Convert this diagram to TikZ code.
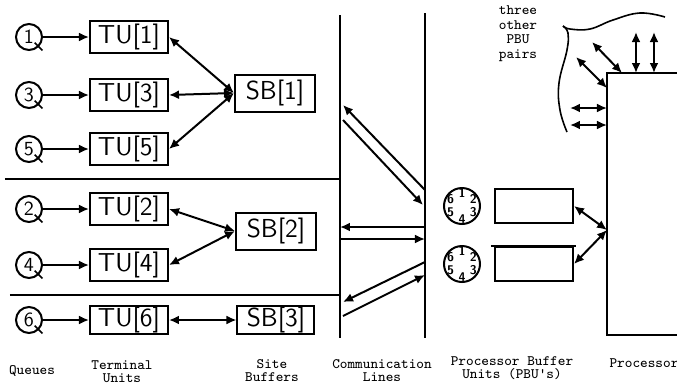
\documentclass[tikz,border=0pt]{standalone}
\usepackage{fontspec}
\usetikzlibrary{arrows.meta, positioning}

\tikzset{
  queue/.style={circle, draw, minimum size=13pt, inner sep=0pt,
    font=\sffamily\fontsize{10}{10}\selectfont},
  unit/.style={draw, minimum width=39pt, minimum height=16pt, inner sep=0pt,
    font=\sffamily\fontsize{13}{13}\selectfont},
  site/.style={unit, minimum width=40pt, minimum height=18.5pt},
  pbu/.style={circle, draw, minimum size=18pt, inner sep=0pt},
  pbudigit/.style={inner sep=0pt, font=\sffamily\bfseries\fontsize{6.3}{6.3}\selectfont},
  pbubox/.style={draw, minimum width=39pt, minimum height=17pt},
  caption/.style={anchor=north, inner sep=0pt, align=center,
    font=\ttfamily\fontsize{7.2}{6.5}\selectfont},
}

\begin{document}
\begin{tikzpicture}[x=0.5pt, y=-0.5pt, node distance=50pt, on grid, line width=1pt,
    >={Latex[length=5pt, width=4.5pt]}]
  \useasboundingbox (0,0) rectangle (677,387);

  % queues, terminal units, site buffers
  \node[queue] (q1) at (29,37) {1};
  \node[queue] (q3) at (29,95) {3};
  \node[queue] (q5) at (29,149) {5};
  \node[queue] (q2) at (29,209) {2};
  \node[queue] (q4) at (29,265) {4};
  \node[queue] (q6) at (29,320) {6};
  \foreach \q in {1,...,6}
    \draw[line width=0.8pt] ([shift={(-45:4pt)}]q\q.center) -- ([shift={(-45:9.5pt)}]q\q.center);

  \node[unit] (tu1) [right=of q1] {TU[1]};
  \node[unit] (tu3) [right=of q3] {TU[3]};
  \node[unit] (tu5) [right=of q5] {TU[5]};
  \node[unit] (tu2) [right=of q2] {TU[2]};
  \node[unit] (tu4) [right=of q4] {TU[4]};
  \node[unit, minimum height=14pt] (tu6) [right=of q6] {TU[6]};

  \node[site] (sb1) at (275,93) {SB[1]};
  \node[site] (sb2) at (276,231) {SB[2]};
  \node[site, minimum width=38.5pt, minimum height=14pt] (sb3) at (276,320) {SB[3]};

  \path[->]
    (q1) edge (tu1)
    (q3) edge (tu3)
    (q5) edge (tu5)
    (q2) edge (tu2)
    (q4) edge (tu4)
    (q6) edge (tu6);
  \path[<->]
    (sb1.west) edge (tu1.east)
               edge (tu3.east)
               edge (tu5.east)
    (sb2.west) edge (tu2.east)
               edge (tu4.east)
    (sb3.west) edge (tu6.east);

  \coordinate (s1a) at (5,179);
  \coordinate (s2a) at (10,295);

  % communication lines
  \coordinate (cl1t) at (340,15);
  \coordinate (cl1b) at (340,338);
  \coordinate (cl2t) at (425,13);
  \coordinate (cl2b) at (425,338);
  \draw (cl1t) -- (cl1b);
  \draw (cl2t) -- (cl2b);
  \draw (s1a) -- (s1a -| cl1t);
  \draw (s2a) -- (s2a -| cl1t);

  \coordinate (a1) at (425,190);  \coordinate (a2) at (343,105);
  \coordinate (b1) at (343,120);  \coordinate (b2) at (423,205);
  \coordinate (c1) at (425,227);  \coordinate (c2) at (340,227);
  \coordinate (d1) at (340,239);  \coordinate (d2) at (425,239);
  \coordinate (e1) at (425,262);  \coordinate (e2) at (343,302);
  \coordinate (f1) at (343,316);  \coordinate (f2) at (425,275);
  \path[->]
    (a1) edge (a2)
    (b1) edge (b2)
    (c1) edge (c2)
    (d1) edge (d2)
    (e1) edge (e2)
    (f1) edge (f2);

  % processor buffer units
  \node[pbu] (p1) at (462,206) {};
  \node[pbu] (p2) at (462,264) {};
  \foreach \p in {1,2}
    \foreach \d/\a in {1/90, 2/30, 3/-30, 4/-90, 5/210, 6/150}
      \node[pbudigit] (p\p d\d) at ([shift={(\a:6.6pt)}]p\p.center) {\d};
  \node[pbubox] (r1) [right=36pt of p1] {};
  \node[pbubox] (r2) [right=36pt of p2] {};
  \draw ([xshift=-1.5pt]r2.north west) -- ([xshift=1pt]r2.north east);

  % processor
  \coordinate (pc) at (607,73);
  \coordinate (pb) at (607,335);
  \coordinate (pj) at (607,230);
  \draw (677,73) -- (pc) -- (pb) -- (677,335);
  \path[<->]
    (pj) edge (r1.east)
         edge (r2.east);

  \coordinate (g1) at (636,73);  \coordinate (h1) at (636,32);
  \coordinate (g2) at (654,73);  \coordinate (h2) at (654,32);
  \coordinate (g3) at (622,73);  \coordinate (h3) at (592,42);
  \coordinate (g4) at (607,88);  \coordinate (h4) at (576,57);
  \coordinate (g5) at (607,108); \coordinate (h5) at (570,108);
  \coordinate (g6) at (607,125); \coordinate (h6) at (570,125);
  \path[<->]
    (g1) edge (h1)
    (g2) edge (h2)
    (g3) edge (h3)
    (g4) edge (h4)
    (g5) edge (h5)
    (g6) edge (h6);

  \draw[line width=0.8pt] plot[smooth, tension=0.7] coordinates
    {(665,17) (640,13) (613,20) (590,29) (570,29) (563,26)};
  \draw[line width=0.8pt] plot[smooth, tension=0.7] coordinates
    {(563,26) (568,33) (567,50) (559,83) (560,110) (567,132)};
  \node[caption, font=\ttfamily\fontsize{7.2}{7.25}\selectfont] (pairs) at (518,5)
    {three\\other\\PBU\\pairs};

  % captions
  \node[caption] (lq) at (32,365) {Queues};
  \node[caption] (ltu) at (122,360) {Terminal\\Units};
  \node[caption] (lsb) at (272,359) {Site\\Buffers};
  \node[caption] (lcl) at (382,359) {Communication\\Lines};
  \node[caption] (lpbu) at (512,356) {Processor Buffer\\Units (PBU's)};
  \node[caption] (lproc) at (644,358) {Processor};
\end{tikzpicture}
\end{document}
